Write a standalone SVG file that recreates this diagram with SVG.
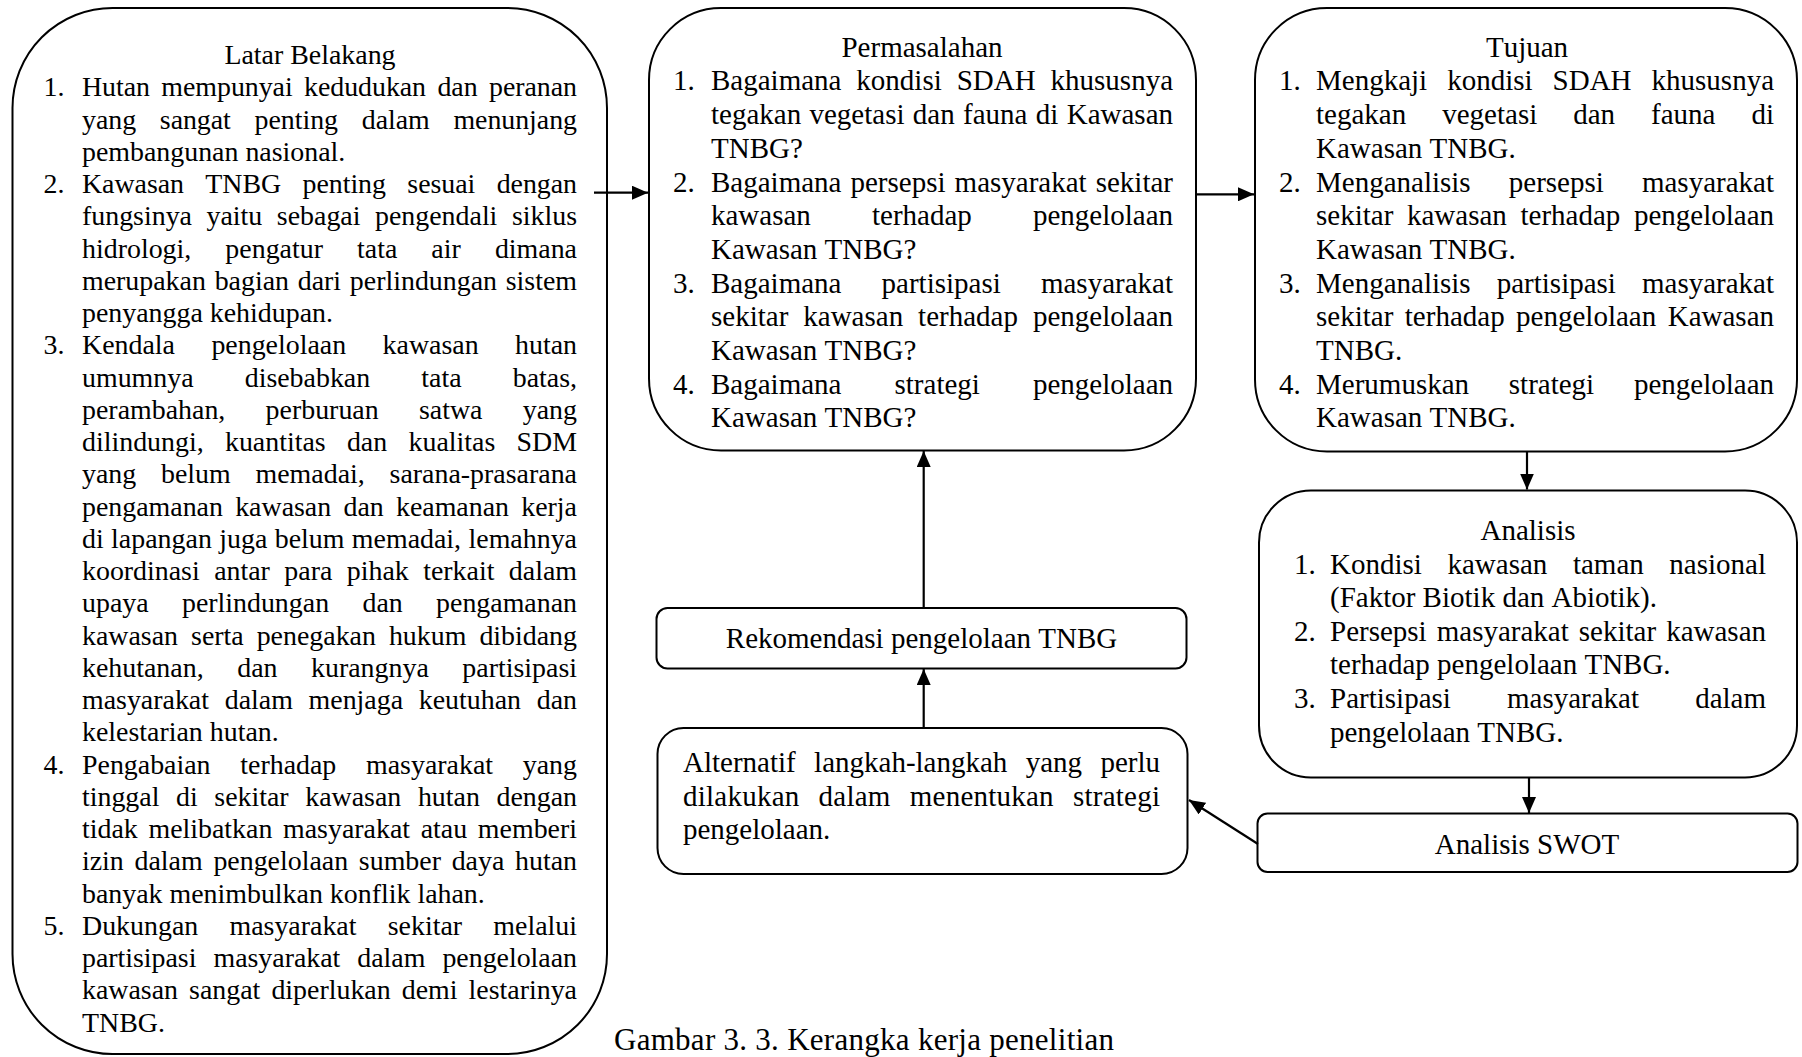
<svg xmlns="http://www.w3.org/2000/svg" width="1802" height="1057" viewBox="0 0 1802 1057">
<defs>
<style>
.box{fill:#fff;stroke:#000;stroke-width:2}
.t{font-family:"Liberation Serif","Times New Roman",serif;fill:#000;font-kerning:none}
.l{font-size:27.9px}
.m{font-size:29px}
.c{text-anchor:middle}
.con{stroke:#000;stroke-width:2.2;fill:none}
</style>
<marker id="ah" markerUnits="userSpaceOnUse" markerWidth="16" markerHeight="14" refX="16" refY="7" orient="auto">
<path d="M0,0 L16,7 L0,14 z" fill="#000"/>
</marker>
</defs>
<rect width="1802" height="1057" fill="#fff"/>

<g id="latar-belakang">
<rect class="box" x="12.5" y="8" width="594.5" height="1046" rx="100" ry="100"/>
<text class="t l c" x="310" y="64">Latar Belakang</text>
<text class="t l" x="43.5" y="96.25">1.</text>
<text class="t l" x="82" y="96.25" textLength="495" lengthAdjust="spacing" style="word-spacing:4.5px">Hutan mempunyai kedudukan dan peranan</text>
<text class="t l" x="82" y="128.5" textLength="495" lengthAdjust="spacing" style="word-spacing:16.9px">yang sangat penting dalam menunjang</text>
<text class="t l" x="82" y="160.75">pembangunan nasional.</text>
<text class="t l" x="43.5" y="193">2.</text>
<text class="t l" x="82" y="193" textLength="495" lengthAdjust="spacing" style="word-spacing:14.5px">Kawasan TNBG penting sesuai dengan</text>
<text class="t l" x="82" y="225.25" textLength="495" lengthAdjust="spacing" style="word-spacing:7.6px">fungsinya yaitu sebagai pengendali siklus</text>
<text class="t l" x="82" y="257.5" textLength="495" lengthAdjust="spacing" style="word-spacing:27.1px">hidrologi, pengatur tata air dimana</text>
<text class="t l" x="82" y="289.75" textLength="495" lengthAdjust="spacing" style="word-spacing:1.8px">merupakan bagian dari perlindungan sistem</text>
<text class="t l" x="82" y="322">penyangga kehidupan.</text>
<text class="t l" x="43.5" y="354.25">3.</text>
<text class="t l" x="82" y="354.25" textLength="495" lengthAdjust="spacing" style="word-spacing:29.5px">Kendala pengelolaan kawasan hutan</text>
<text class="t l" x="82" y="386.5" textLength="495" lengthAdjust="spacing" style="word-spacing:44.2px">umumnya disebabkan tata batas,</text>
<text class="t l" x="82" y="418.75" textLength="495" lengthAdjust="spacing" style="word-spacing:33.3px">perambahan, perburuan satwa yang</text>
<text class="t l" x="82" y="451" textLength="495" lengthAdjust="spacing" style="word-spacing:14.3px">dilindungi, kuantitas dan kualitas SDM</text>
<text class="t l" x="82" y="483.25" textLength="495" lengthAdjust="spacing" style="word-spacing:17.8px">yang belum memadai, sarana-prasarana</text>
<text class="t l" x="82" y="515.5" textLength="495" lengthAdjust="spacing" style="word-spacing:5.3px">pengamanan kawasan dan keamanan kerja</text>
<text class="t l" x="82" y="547.75" textLength="495" lengthAdjust="spacing" style="word-spacing:0.4px">di lapangan juga belum memadai, lemahnya</text>
<text class="t l" x="82" y="580" textLength="495" lengthAdjust="spacing" style="word-spacing:7.5px">koordinasi antar para pihak terkait dalam</text>
<text class="t l" x="82" y="612.25" textLength="495" lengthAdjust="spacing" style="word-spacing:26.4px">upaya perlindungan dan pengamanan</text>
<text class="t l" x="82" y="644.5" textLength="495" lengthAdjust="spacing" style="word-spacing:6px">kawasan serta penegakan hukum dibidang</text>
<text class="t l" x="82" y="676.75" textLength="495" lengthAdjust="spacing" style="word-spacing:26.6px">kehutanan, dan kurangnya partisipasi</text>
<text class="t l" x="82" y="709" textLength="495" lengthAdjust="spacing" style="word-spacing:8.8px">masyarakat dalam menjaga keutuhan dan</text>
<text class="t l" x="82" y="741.25">kelestarian hutan.</text>
<text class="t l" x="43.5" y="773.5">4.</text>
<text class="t l" x="82" y="773.5" textLength="495" lengthAdjust="spacing" style="word-spacing:22.8px">Pengabaian terhadap masyarakat yang</text>
<text class="t l" x="82" y="805.75" textLength="495" lengthAdjust="spacing" style="word-spacing:9.7px">tinggal di sekitar kawasan hutan dengan</text>
<text class="t l" x="82" y="838" textLength="495" lengthAdjust="spacing" style="word-spacing:3.7px">tidak melibatkan masyarakat atau memberi</text>
<text class="t l" x="82" y="870.25" textLength="495" lengthAdjust="spacing" style="word-spacing:3.8px">izin dalam pengelolaan sumber daya hutan</text>
<text class="t l" x="82" y="902.5">banyak menimbulkan konflik lahan.</text>
<text class="t l" x="43.5" y="934.75">5.</text>
<text class="t l" x="82" y="934.75" textLength="495" lengthAdjust="spacing" style="word-spacing:24.3px">Dukungan masyarakat sekitar melalui</text>
<text class="t l" x="82" y="967" textLength="495" lengthAdjust="spacing" style="word-spacing:10.1px">partisipasi masyarakat dalam pengelolaan</text>
<text class="t l" x="82" y="999.25" textLength="495" lengthAdjust="spacing" style="word-spacing:4.1px">kawasan sangat diperlukan demi lestarinya</text>
<text class="t l" x="82" y="1031.5">TNBG.</text>
</g>

<g id="permasalahan">
<rect class="box" x="649" y="8" width="547" height="442.5" rx="72" ry="72"/>
<text class="t m c" x="922" y="56.7">Permasalahan</text>
<text class="t m" x="673" y="90.4">1.</text>
<text class="t m" x="711" y="90.4" textLength="462" lengthAdjust="spacing" style="word-spacing:7.65px">Bagaimana kondisi SDAH khususnya</text>
<text class="t m" x="711" y="124.1" textLength="462" lengthAdjust="spacing" style="word-spacing:1.07px">tegakan vegetasi dan fauna di Kawasan</text>
<text class="t m" x="711" y="157.8">TNBG?</text>
<text class="t m" x="673" y="191.5">2.</text>
<text class="t m" x="711" y="191.5" textLength="462" lengthAdjust="spacing" style="word-spacing:1.78px">Bagaimana persepsi masyarakat sekitar</text>
<text class="t m" x="711" y="225.2" textLength="462" lengthAdjust="spacing" style="word-spacing:53.85px">kawasan terhadap pengelolaan</text>
<text class="t m" x="711" y="258.9">Kawasan TNBG?</text>
<text class="t m" x="673" y="292.6">3.</text>
<text class="t m" x="711" y="292.6" textLength="462" lengthAdjust="spacing" style="word-spacing:32.85px">Bagaimana partisipasi masyarakat</text>
<text class="t m" x="711" y="326.3" textLength="462" lengthAdjust="spacing" style="word-spacing:7.7px">sekitar kawasan terhadap pengelolaan</text>
<text class="t m" x="711" y="360">Kawasan TNBG?</text>
<text class="t m" x="673" y="393.7">4.</text>
<text class="t m" x="711" y="393.7" textLength="462" lengthAdjust="spacing" style="word-spacing:45.75px">Bagaimana strategi pengelolaan</text>
<text class="t m" x="711" y="427.4">Kawasan TNBG?</text>
</g>

<g id="tujuan">
<rect class="box" x="1255" y="8" width="542" height="443.5" rx="72" ry="72"/>
<text class="t m c" x="1527" y="56.7">Tujuan</text>
<text class="t m" x="1279" y="90.4">1.</text>
<text class="t m" x="1316" y="90.4" textLength="458" lengthAdjust="spacing" style="word-spacing:12.8px">Mengkaji kondisi SDAH khususnya</text>
<text class="t m" x="1316" y="124.1" textLength="458" lengthAdjust="spacing" style="word-spacing:28.7px">tegakan vegetasi dan fauna di</text>
<text class="t m" x="1316" y="157.8">Kawasan TNBG.</text>
<text class="t m" x="1279" y="191.5">2.</text>
<text class="t m" x="1316" y="191.5" textLength="458" lengthAdjust="spacing" style="word-spacing:30.85px">Menganalisis persepsi masyarakat</text>
<text class="t m" x="1316" y="225.2" textLength="458" lengthAdjust="spacing" style="word-spacing:6.4px">sekitar kawasan terhadap pengelolaan</text>
<text class="t m" x="1316" y="258.9">Kawasan TNBG.</text>
<text class="t m" x="1279" y="292.6">3.</text>
<text class="t m" x="1316" y="292.6" textLength="458" lengthAdjust="spacing" style="word-spacing:18.8px">Menganalisis partisipasi masyarakat</text>
<text class="t m" x="1316" y="326.3" textLength="458" lengthAdjust="spacing" style="word-spacing:4.2px">sekitar terhadap pengelolaan Kawasan</text>
<text class="t m" x="1316" y="360">TNBG.</text>
<text class="t m" x="1279" y="393.7">4.</text>
<text class="t m" x="1316" y="393.7" textLength="458" lengthAdjust="spacing" style="word-spacing:32.5px">Merumuskan strategi pengelolaan</text>
<text class="t m" x="1316" y="427.4">Kawasan TNBG.</text>
</g>

<g id="analisis">
<rect class="box" x="1259" y="490.5" width="538" height="287" rx="52" ry="52"/>
<text class="t m c" x="1528" y="540">Analisis</text>
<text class="t m" x="1294" y="573.6">1.</text>
<text class="t m" x="1330" y="573.6" textLength="436" lengthAdjust="spacing" style="word-spacing:18.35px">Kondisi kawasan taman nasional</text>
<text class="t m" x="1330" y="607.2">(Faktor Biotik dan Abiotik).</text>
<text class="t m" x="1294" y="640.8">2.</text>
<text class="t m" x="1330" y="640.8" textLength="436" lengthAdjust="spacing" style="word-spacing:2.8px">Persepsi masyarakat sekitar kawasan</text>
<text class="t m" x="1330" y="674.4">terhadap pengelolaan TNBG.</text>
<text class="t m" x="1294" y="708">3.</text>
<text class="t m" x="1330" y="708" textLength="436" lengthAdjust="spacing" style="word-spacing:48.85px">Partisipasi masyarakat dalam</text>
<text class="t m" x="1330" y="741.6">pengelolaan TNBG.</text>
</g>

<g id="analisis-swot">
<rect class="box" x="1257.5" y="813.5" width="540" height="58.5" rx="10" ry="10"/>
<text class="t m c" x="1527" y="853.5">Analisis SWOT</text>
</g>

<g id="alternatif">
<rect class="box" x="657.5" y="728" width="530" height="146" rx="26" ry="26"/>
<text class="t m" x="683" y="772" textLength="477" lengthAdjust="spacing" style="word-spacing:11.1px">Alternatif langkah-langkah yang perlu</text>
<text class="t m" x="683" y="805.5" textLength="477" lengthAdjust="spacing" style="word-spacing:11.6px">dilakukan dalam menentukan strategi</text>
<text class="t m" x="683" y="839">pengelolaan.</text>
</g>

<g id="rekomendasi">
<rect class="box" x="656.5" y="608" width="530" height="60.5" rx="11" ry="11"/>
<text class="t m c" x="921.5" y="647.6">Rekomendasi pengelolaan TNBG</text>
</g>

<g id="connectors">
<line class="con" x1="594" y1="192.7" x2="648" y2="192.7" marker-end="url(#ah)"/>
<line class="con" x1="1196" y1="194.3" x2="1254" y2="194.3" marker-end="url(#ah)"/>
<line class="con" x1="1527" y1="451.5" x2="1527" y2="489.5" marker-end="url(#ah)"/>
<line class="con" x1="1529" y1="777.5" x2="1529" y2="813" marker-end="url(#ah)"/>
<line class="con" x1="1258" y1="844" x2="1189" y2="800" marker-end="url(#ah)"/>
<line class="con" x1="923.7" y1="728" x2="923.7" y2="669" marker-end="url(#ah)"/>
<line class="con" x1="923.7" y1="608" x2="923.7" y2="451" marker-end="url(#ah)"/>
</g>

<text class="t" x="614" y="1050" style="font-size:31px" textLength="500" lengthAdjust="spacing">Gambar 3. 3. Kerangka kerja penelitian</text>
</svg>
